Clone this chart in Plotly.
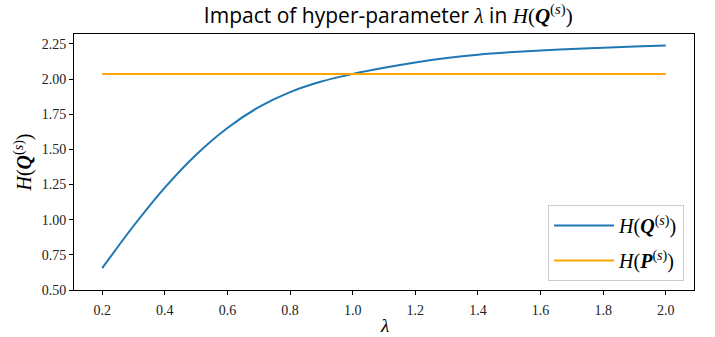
import plotly.graph_objects as go

lam = [0.2, 0.3, 0.4, 0.5, 0.6, 0.7, 0.8, 0.9, 1.0, 1.1, 1.2, 1.3, 1.4, 1.5, 1.6, 1.7, 1.8, 1.9, 2.0]
h_q = [0.655, 0.955, 1.228, 1.462, 1.652, 1.800, 1.907, 1.982, 2.036, 2.080, 2.118, 2.149, 2.173, 2.190, 2.203, 2.214, 2.223, 2.231, 2.239]
h_p_value = 2.035
h_p = [h_p_value] * len(lam)

x_ticks = [0.2, 0.4, 0.6, 0.8, 1.0, 1.2, 1.4, 1.6, 1.8, 2.0]
y_ticks = [0.50, 0.75, 1.00, 1.25, 1.50, 1.75, 2.00, 2.25]

SERIF = "Liberation Serif, DejaVu Serif, serif"
SANS = "Open Sans, DejaVu Sans, sans-serif"

q_label = "<i>H</i>(<b><i>Q</i></b><sup>(<i>s</i>)</sup>)"
p_label = "<i>H</i>(<b><i>P</i></b><sup>(<i>s</i>)</sup>)"

fig = go.Figure()
fig.add_trace(go.Scatter(x=lam, y=h_q, mode="lines", name=q_label, legendgroup="q",
                         line=dict(color="#1f77b4", width=2, shape="spline", smoothing=1.0)))
fig.add_trace(go.Scatter(x=lam, y=h_p, mode="lines", name=p_label, legendgroup="p",
                         line=dict(color="#FFA500", width=2)))

axis_common = dict(showline=True, linecolor="black", linewidth=1, mirror=True,
                   ticks="outside", ticklen=4, tickcolor="black", showgrid=False,
                   zeroline=False, automargin=False,
                   tickfont=dict(family=SERIF, size=14, color="#222"))

fig.update_layout(
    width=715, height=337,
    margin=dict(l=74, r=21, t=34, b=47),
    paper_bgcolor="white", plot_bgcolor="white",
    title=dict(text="Impact of hyper-parameter <span style='font-family:Liberation Serif'><i>λ</i></span> in "
                    "<span style='font-family:Liberation Serif'>" + q_label + "</span>",
               x=0.543, xanchor="center", y=0.975, yanchor="top",
               font=dict(family=SANS, size=21, color="black")),
    xaxis=dict(range=[0.11, 2.09], tickvals=x_ticks,
               ticktext=[f"{v:.1f}" for v in x_ticks], ticklabelstandoff=3,
               **axis_common),
    yaxis=dict(range=[0.5, 2.32], tickvals=y_ticks,
               ticktext=[f"{v:.2f}" for v in y_ticks],
               title=dict(text=q_label, font=dict(family=SERIF, size=20, color="black"), standoff=4),
               **axis_common),
    legend=dict(x=0.984, y=0.035, xanchor="right", yanchor="bottom",
                bgcolor="rgba(255,255,255,0.9)", bordercolor="#cccccc", borderwidth=1,
                font=dict(family=SERIF, size=20, color="black"),
                itemwidth=60, tracegroupgap=6),
    annotations=[dict(text="<i>λ</i>", xref="paper", yref="paper", x=0.5, y=-0.138,
                      xanchor="center", yanchor="middle", showarrow=False,
                      font=dict(family=SERIF, size=19, color="black"))],
    showlegend=True,
)

fig.write_html("out.html")
